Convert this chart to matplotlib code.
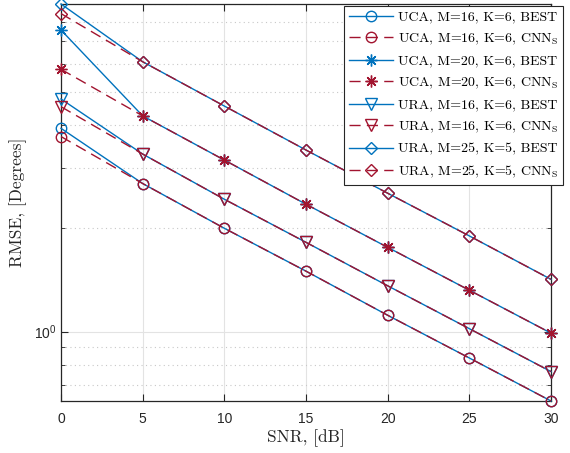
import matplotlib
matplotlib.use("Agg")
from matplotlib import pyplot as plt
from matplotlib.ticker import FixedLocator, NullFormatter, FixedFormatter

# data (RMSE in degrees vs SNR in dB)
snr = [0, 5, 10, 15, 20, 25, 30]
uca16_best = [3.91, 2.70, 2.00, 1.50, 1.116, 0.838, 0.628]
uca16_cnn = [3.70, 2.70, 2.00, 1.50, 1.116, 0.838, 0.628]
uca20_best = [7.56, 4.25, 3.16, 2.35, 1.76, 1.32, 0.99]
uca20_cnn = [5.81, 4.25, 3.16, 2.35, 1.76, 1.32, 0.99]
ura16_best = [4.76, 3.29, 2.43, 1.82, 1.36, 1.02, 0.765]
ura16_cnn = [4.52, 3.29, 2.43, 1.82, 1.36, 1.02, 0.765]
ura25_best = [9.0, 6.11, 4.54, 3.38, 2.53, 1.90, 1.42]
ura25_cnn = [8.44, 6.11, 4.54, 3.38, 2.53, 1.90, 1.42]

labels = ["UCA, M=16, K=6, BEST", "UCA, M=16, K=6, CNN$_\\mathrm{S}$",
          "UCA, M=20, K=6, BEST", "UCA, M=20, K=6, CNN$_\\mathrm{S}$",
          "URA, M=16, K=6, BEST", "URA, M=16, K=6, CNN$_\\mathrm{S}$",
          "URA, M=25, K=5, BEST", "URA, M=25, K=5, CNN$_\\mathrm{S}$"]

plt.rcParams['mathtext.fontset'] = 'custom'
plt.rcParams['mathtext.rm'] = 'cmr10'
plt.rcParams['mathtext.sf'] = 'Liberation Sans'
plt.rcParams['font.family'] = 'Liberation Sans'

blue = '#0072BD'
red = '#A2142F'

fig = plt.figure(figsize=(5.7, 4.53), dpi=100)
ax = fig.add_axes([61/570, 1 - 401/453, 490/570, 397/453])

series = [(uca16_best, uca16_cnn, 'o', 7.5),
          (uca20_best, uca20_cnn, (8, 2, 0), 8.5),
          (ura16_best, ura16_cnn, 'v', 8),
          (ura25_best, ura25_cnn, 'D', 6.5)]

i = 0
for best, cnn, mk, ms in series:
    ax.plot(snr, best, color=blue, lw=1.0, marker=mk, ms=ms, mfc='none',
            mec=blue, mew=1.0, label=labels[i], clip_on=False, zorder=3)
    ax.plot(snr, cnn, color=red, lw=1.0, ls=(0, (8, 4.5)), marker=mk, ms=ms,
            mfc='none', mec=red, mew=1.0, label=labels[i + 1], clip_on=False, zorder=4)
    i += 2

ax.set_yscale('log')
ax.set_xlim(0, 30)
ax.set_ylim(0.628, 9.0)
ax.set_xticks(range(0, 31, 5))
ax.yaxis.set_major_locator(FixedLocator([1]))
ax.yaxis.set_major_formatter(FixedFormatter([r'$\mathsf{10^{0}}$']))
ax.yaxis.set_minor_locator(FixedLocator([0.7, 0.8, 0.9, 2, 3, 4, 5, 6, 7, 8, 9]))
ax.yaxis.set_minor_formatter(NullFormatter())

ax.grid(True, which='major', color='#e3e3e3', lw=0.8, ls='-')
ax.grid(True, which='minor', axis='y', color='#c8c8c8', lw=0.8, ls=(0, (1, 3)))
ax.set_axisbelow(True)

ax.tick_params(which='both', direction='in', top=True, right=True,
               colors='#262626', labelsize=10)
ax.tick_params(which='major', length=5)
ax.tick_params(which='minor', length=3)
ax.tick_params(axis='x', pad=8)
for sp in ax.spines.values():
    sp.set_color('#262626')
    sp.set_linewidth(0.9)

ax.set_xlabel("SNR, [dB]", family='cmr10', fontsize=12.5, color='#262626', labelpad=2)
ax.set_ylabel("RMSE, [Degrees]", family='cmr10', fontsize=12.5, color='#262626', labelpad=5)

leg = ax.legend(loc='upper right', bbox_to_anchor=(563/570, 1 - 6/453),
                bbox_transform=fig.transFigure, borderaxespad=0,
                prop={'family': 'cmr10', 'size': 10}, handlelength=3.2,
                handletextpad=0.35, labelspacing=0.58, borderpad=0.35,
                fancybox=False, framealpha=1, edgecolor='#262626')
leg.get_frame().set_linewidth(0.8)

fig.savefig("out.png", dpi=100)
